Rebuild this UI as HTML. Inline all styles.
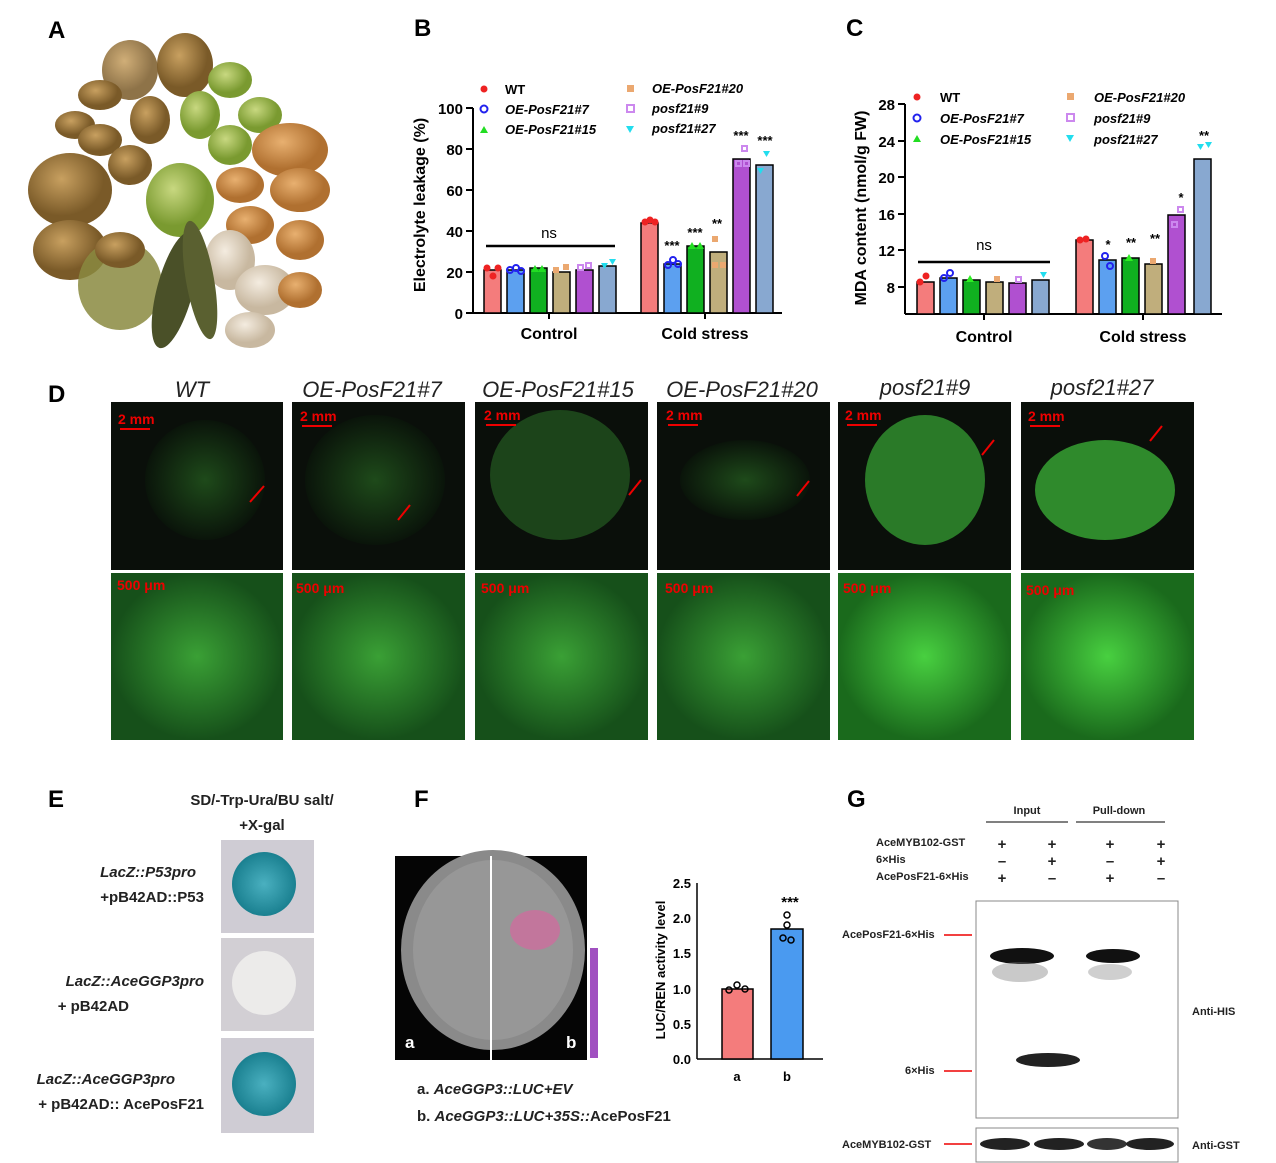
<!DOCTYPE html><html><head><meta charset="utf-8"><style>body{margin:0;background:#fff}svg{display:block}text{font-family:"Liberation Sans",sans-serif}</style></head><body>
<svg width="1276" height="1163" viewBox="0 0 1276 1163" xmlns="http://www.w3.org/2000/svg">
<defs>
<radialGradient id="gk" cx="40%" cy="35%"><stop offset="0" stop-color="#c8a060"/><stop offset="1" stop-color="#7a5a28"/></radialGradient>
<radialGradient id="gg" cx="40%" cy="35%"><stop offset="0" stop-color="#c8d880"/><stop offset="1" stop-color="#7a9a30"/></radialGradient>
<radialGradient id="go" cx="40%" cy="35%"><stop offset="0" stop-color="#e8b070"/><stop offset="1" stop-color="#b07030"/></radialGradient>
<radialGradient id="gw" cx="40%" cy="35%"><stop offset="0" stop-color="#f4ece0"/><stop offset="1" stop-color="#c8b8a0"/></radialGradient>
<radialGradient id="gr1" cx="50%" cy="50%"><stop offset="0" stop-color="#1e4a1a"/><stop offset="1" stop-color="#0a140a"/></radialGradient>
<radialGradient id="gr2" cx="50%" cy="50%"><stop offset="0" stop-color="#3aa035"/><stop offset="1" stop-color="#16501a"/></radialGradient>
<radialGradient id="gr3" cx="50%" cy="50%"><stop offset="0" stop-color="#48d040"/><stop offset="1" stop-color="#1a6a1c"/></radialGradient>
<radialGradient id="blue" cx="50%" cy="50%"><stop offset="0" stop-color="#4ab0c0"/><stop offset="1" stop-color="#1a8090"/></radialGradient>
</defs>
<g font-weight="bold" font-size="24"><text x="48" y="38">A</text><text x="414" y="36">B</text><text x="846" y="36">C</text><text x="48" y="402">D</text><text x="48" y="807">E</text><text x="414" y="807">F</text><text x="847" y="807">G</text></g>
<!-- A fruits -->
<g>
<ellipse cx="185" cy="65" rx="28" ry="32" fill="url(#gk)"/><ellipse cx="130" cy="70" rx="28" ry="30" fill="url(#gk)" opacity=".85"/><ellipse cx="230" cy="80" rx="22" ry="18" fill="url(#gg)"/>
<ellipse cx="100" cy="95" rx="22" ry="15" fill="url(#gk)"/><ellipse cx="75" cy="125" rx="20" ry="14" fill="url(#gk)"/><ellipse cx="150" cy="120" rx="20" ry="24" fill="url(#gk)"/>
<ellipse cx="200" cy="115" rx="20" ry="24" fill="url(#gg)"/><ellipse cx="260" cy="115" rx="22" ry="18" fill="url(#gg)"/><ellipse cx="290" cy="150" rx="38" ry="27" fill="url(#go)"/>
<ellipse cx="100" cy="140" rx="22" ry="16" fill="url(#gk)"/><ellipse cx="230" cy="145" rx="22" ry="20" fill="url(#gg)"/>
<ellipse cx="70" cy="190" rx="42" ry="37" fill="url(#gk)"/><ellipse cx="180" cy="200" rx="34" ry="37" fill="url(#gg)"/><ellipse cx="130" cy="165" rx="22" ry="20" fill="url(#gk)"/>
<ellipse cx="240" cy="185" rx="24" ry="18" fill="url(#go)"/><ellipse cx="300" cy="190" rx="30" ry="22" fill="url(#go)"/><ellipse cx="250" cy="225" rx="24" ry="19" fill="url(#go)"/>
<ellipse cx="300" cy="240" rx="24" ry="20" fill="url(#go)"/><ellipse cx="70" cy="250" rx="37" ry="30" fill="url(#gk)"/><ellipse cx="230" cy="260" rx="25" ry="30" fill="url(#gw)"/>
<ellipse cx="265" cy="290" rx="30" ry="25" fill="url(#gw)"/><ellipse cx="250" cy="330" rx="25" ry="18" fill="url(#gw)"/><ellipse cx="300" cy="290" rx="22" ry="18" fill="url(#go)"/>
<ellipse cx="120" cy="285" rx="42" ry="45" fill="#8a8a40" opacity=".85"/><ellipse cx="175" cy="290" rx="18" ry="60" fill="#4a5028" transform="rotate(15 175 290)"/>
<ellipse cx="200" cy="280" rx="14" ry="60" fill="#5a6030" transform="rotate(-10 200 280)"/><ellipse cx="120" cy="250" rx="25" ry="18" fill="url(#gk)"/>
</g>
<!-- B -->
<g font-size="15" font-weight="bold">
<line x1="473" y1="108" x2="473" y2="313" stroke="#000" stroke-width="2"/><line x1="473" y1="313" x2="782" y2="313" stroke="#000" stroke-width="2"/>
<g stroke="#000" stroke-width="2"><line x1="466" y1="108" x2="473" y2="108"/><line x1="466" y1="149" x2="473" y2="149"/><line x1="466" y1="190" x2="473" y2="190"/><line x1="466" y1="231" x2="473" y2="231"/><line x1="466" y1="272" x2="473" y2="272"/><line x1="466" y1="313" x2="473" y2="313"/><line x1="549" y1="313" x2="549" y2="319"/><line x1="705" y1="313" x2="705" y2="319"/></g>
<g text-anchor="end"><text x="463" y="114">100</text><text x="463" y="155">80</text><text x="463" y="196">60</text><text x="463" y="237">40</text><text x="463" y="278">20</text><text x="463" y="319">0</text></g>
<text x="549" y="339" text-anchor="middle" font-size="16">Control</text><text x="705" y="339" text-anchor="middle" font-size="16">Cold stress</text>
<text transform="translate(425 205) rotate(-90)" text-anchor="middle" font-size="16">Electrolyte leakage (%)</text>
<g stroke="#000" stroke-width="1.5">
<rect x="484" y="270" width="17" height="43" fill="#f47c7c"/><rect x="507" y="270" width="17" height="43" fill="#5ca0f0"/><rect x="530" y="268" width="17" height="45" fill="#10b020"/><rect x="553" y="272" width="17" height="41" fill="#c0ae7c"/><rect x="576" y="270" width="17" height="43" fill="#b050d0"/><rect x="599" y="266" width="17" height="47" fill="#88a8d0"/>
<rect x="641" y="223" width="17" height="90" fill="#f47c7c"/><rect x="664" y="264" width="17" height="49" fill="#5ca0f0"/><rect x="687" y="246" width="17" height="67" fill="#10b020"/><rect x="710" y="252" width="17" height="61" fill="#c0ae7c"/><rect x="733" y="159" width="17" height="154" fill="#b050d0"/><rect x="756" y="165" width="17" height="148" fill="#88a8d0"/>
</g>
<g fill="#e22"><circle cx="487" cy="268" r="3.5"/><circle cx="493" cy="276" r="3.5"/><circle cx="498" cy="268" r="3.5"/><circle cx="645" cy="222" r="3.5"/><circle cx="650" cy="220" r="3.5"/><circle cx="655" cy="222" r="3.5"/></g>
<g fill="none" stroke="#22e" stroke-width="2"><circle cx="510" cy="270" r="3"/><circle cx="516" cy="268" r="3"/><circle cx="521" cy="271" r="3"/><circle cx="668" cy="265" r="3"/><circle cx="673" cy="260" r="3"/><circle cx="678" cy="264" r="3"/></g>
<g fill="#2d2"><path d="M531 272l4-7 4 7z"/><path d="M538 272l4-7 4 7z"/><path d="M688 249l4-7 4 7z"/><path d="M696 249l4-7 4 7z"/></g>
<g fill="#eba870"><rect x="553" y="267" width="6" height="6"/><rect x="563" y="264" width="6" height="6"/><rect x="712" y="236" width="6" height="6"/><rect x="712" y="262" width="6" height="6"/><rect x="720" y="262" width="6" height="6"/></g>
<g fill="none" stroke="#c8e" stroke-width="2"><rect x="578" y="265" width="5" height="5"/><rect x="586" y="263" width="5" height="5"/><rect x="736" y="161" width="5" height="5"/><rect x="742" y="146" width="5" height="5"/><rect x="744" y="161" width="5" height="5"/></g>
<g fill="#2de"><path d="M601 263h7l-3.5 6z"/><path d="M609 259h7l-3.5 6z"/><path d="M757 168h7l-3.5 6z"/><path d="M763 151h7l-3.5 6z"/></g>
<line x1="486" y1="246" x2="615" y2="246" stroke="#000" stroke-width="2.5"/>
<text x="549" y="238" text-anchor="middle" font-weight="normal">ns</text>
<g font-size="13" text-anchor="middle"><text x="672" y="250">***</text><text x="695" y="237">***</text><text x="717" y="228">**</text><text x="741" y="140">***</text><text x="765" y="145">***</text></g>
<g font-size="13" font-style="italic"><text x="505" y="94" font-style="normal">WT</text><text x="505" y="114">OE-PosF21#7</text><text x="505" y="134">OE-PosF21#15</text><text x="652" y="93">OE-PosF21#20</text><text x="652" y="113">posf21#9</text><text x="652" y="133">posf21#27</text></g>
<circle cx="484" cy="89" r="3.5" fill="#e22"/><circle cx="484" cy="109" r="3.5" fill="none" stroke="#22e" stroke-width="2"/><path d="M480 133 L484 126 L488 133Z" fill="#2d2"/><rect x="627" y="85" width="7" height="7" fill="#eba870"/><rect x="627" y="105" width="7" height="7" fill="none" stroke="#c8e" stroke-width="2"/><path d="M626 126 L634 126 L630 133Z" fill="#2de"/>
</g>
<!-- C -->
<g font-size="15" font-weight="bold">
<line x1="905" y1="104" x2="905" y2="314" stroke="#000" stroke-width="2"/><line x1="905" y1="314" x2="1222" y2="314" stroke="#000" stroke-width="2"/>
<g stroke="#000" stroke-width="2"><line x1="898" y1="104" x2="905" y2="104"/><line x1="898" y1="141" x2="905" y2="141"/><line x1="898" y1="177" x2="905" y2="177"/><line x1="898" y1="214" x2="905" y2="214"/><line x1="898" y1="250" x2="905" y2="250"/><line x1="898" y1="287" x2="905" y2="287"/><line x1="984" y1="314" x2="984" y2="320"/><line x1="1143" y1="314" x2="1143" y2="320"/></g>
<g text-anchor="end"><text x="895" y="110">28</text><text x="895" y="147">24</text><text x="895" y="183">20</text><text x="895" y="220">16</text><text x="895" y="256">12</text><text x="895" y="293">8</text></g>
<text x="984" y="342" text-anchor="middle" font-size="16">Control</text><text x="1143" y="342" text-anchor="middle" font-size="16">Cold stress</text>
<text transform="translate(866 208) rotate(-90)" text-anchor="middle" font-size="16">MDA content (nmol/g FW)</text>
<g stroke="#000" stroke-width="1.5">
<rect x="917" y="282" width="17" height="32" fill="#f47c7c"/><rect x="940" y="278" width="17" height="36" fill="#5ca0f0"/><rect x="963" y="280" width="17" height="34" fill="#10b020"/><rect x="986" y="282" width="17" height="32" fill="#c0ae7c"/><rect x="1009" y="283" width="17" height="31" fill="#b050d0"/><rect x="1032" y="280" width="17" height="34" fill="#88a8d0"/>
<rect x="1076" y="240" width="17" height="74" fill="#f47c7c"/><rect x="1099" y="260" width="17" height="54" fill="#5ca0f0"/><rect x="1122" y="258" width="17" height="56" fill="#10b020"/><rect x="1145" y="264" width="17" height="50" fill="#c0ae7c"/><rect x="1168" y="215" width="17" height="99" fill="#b050d0"/><rect x="1194" y="159" width="17" height="155" fill="#88a8d0"/>
</g>
<g fill="#e22"><circle cx="920" cy="282" r="3.5"/><circle cx="926" cy="276" r="3.5"/><circle cx="1080" cy="240" r="3.5"/><circle cx="1086" cy="239" r="3.5"/></g>
<g fill="none" stroke="#22e" stroke-width="2"><circle cx="944" cy="278" r="3"/><circle cx="950" cy="273" r="3"/><circle cx="1105" cy="256" r="3"/><circle cx="1110" cy="266" r="3"/></g>
<g fill="#2dee22"><path d="M966 282l4-7 4 7z"/><path d="M1125 261l4-7 4 7z"/></g>
<g fill="#eba870"><rect x="994" y="276" width="6" height="6"/><rect x="1150" y="258" width="6" height="6"/></g>
<g fill="none" stroke="#c8e" stroke-width="2"><rect x="1016" y="277" width="5" height="5"/><rect x="1172" y="222" width="5" height="5"/><rect x="1178" y="207" width="5" height="5"/></g>
<g fill="#2de"><path d="M1040 272h7l-3.5 6z"/><path d="M1197 144h7l-3.5 6z"/><path d="M1205 142h7l-3.5 6z"/></g>
<line x1="918" y1="262" x2="1050" y2="262" stroke="#000" stroke-width="2.5"/><text x="984" y="250" text-anchor="middle" font-weight="normal">ns</text>
<g font-size="13" text-anchor="middle"><text x="1108" y="249">*</text><text x="1131" y="247">**</text><text x="1155" y="243">**</text><text x="1181" y="202">*</text><text x="1204" y="140">**</text></g>
<g font-size="13" font-style="italic"><text x="940" y="102" font-style="normal">WT</text><text x="940" y="123">OE-PosF21#7</text><text x="940" y="144">OE-PosF21#15</text><text x="1094" y="102">OE-PosF21#20</text><text x="1094" y="123">posf21#9</text><text x="1094" y="144">posf21#27</text></g>
<circle cx="917" cy="97" r="3.5" fill="#e22"/><circle cx="917" cy="118" r="3.5" fill="none" stroke="#22e" stroke-width="2"/><path d="M913 142 L917 135 L921 142Z" fill="#2d2"/><rect x="1067" y="93" width="7" height="7" fill="#eba870"/><rect x="1067" y="114" width="7" height="7" fill="none" stroke="#c8e" stroke-width="2"/><path d="M1066 135 L1074 135 L1070 142Z" fill="#2de"/>
</g>
<!-- D -->
<g font-size="22" font-style="italic" text-anchor="middle" fill="#222"><text x="192" y="397">WT</text><text x="372" y="397">OE-PosF21#7</text><text x="558" y="397">OE-PosF21#15</text><text x="742" y="397">OE-PosF21#20</text><text x="925" y="395">posf21#9</text><text x="1102" y="395">posf21#27</text></g>
<g>
<rect x="111" y="402" width="172" height="168" fill="#0a0f0a"/><rect x="292" y="402" width="173" height="168" fill="#0a0f0a"/><rect x="475" y="402" width="173" height="168" fill="#0a0f0a"/><rect x="657" y="402" width="173" height="168" fill="#0a0f0a"/><rect x="838" y="402" width="173" height="168" fill="#0a0f0a"/><rect x="1021" y="402" width="173" height="168" fill="#0a0f0a"/>
<ellipse cx="205" cy="480" rx="60" ry="60" fill="url(#gr1)"/><ellipse cx="375" cy="480" rx="70" ry="65" fill="url(#gr1)"/><ellipse cx="560" cy="475" rx="70" ry="65" fill="#1e4a1c" opacity=".9"/><ellipse cx="745" cy="480" rx="65" ry="40" fill="url(#gr1)"/><ellipse cx="925" cy="480" rx="60" ry="65" fill="#2a7a28"/><ellipse cx="1105" cy="490" rx="70" ry="50" fill="#2f8a2c"/>
<rect x="111" y="573" width="172" height="167" fill="url(#gr2)"/><rect x="292" y="573" width="173" height="167" fill="url(#gr2)"/><rect x="475" y="573" width="173" height="167" fill="url(#gr2)"/><rect x="657" y="573" width="173" height="167" fill="url(#gr2)"/><rect x="838" y="573" width="173" height="167" fill="url(#gr3)"/><rect x="1021" y="573" width="173" height="167" fill="url(#gr3)"/>
</g>
<g font-size="14" font-weight="bold" fill="#e00"><text x="118" y="424">2 mm</text><text x="300" y="421">2 mm</text><text x="484" y="420">2 mm</text><text x="666" y="420">2 mm</text><text x="845" y="420">2 mm</text><text x="1028" y="421">2 mm</text>
<text x="117" y="590">500 μm</text><text x="296" y="593">500 μm</text><text x="481" y="593">500 μm</text><text x="665" y="593">500 μm</text><text x="843" y="593">500 μm</text><text x="1026" y="595">500 μm</text></g>
<g stroke="#e00" stroke-width="2"><line x1="120" y1="429" x2="150" y2="429"/><line x1="302" y1="426" x2="332" y2="426"/><line x1="486" y1="425" x2="516" y2="425"/><line x1="668" y1="425" x2="698" y2="425"/><line x1="847" y1="425" x2="877" y2="425"/><line x1="1030" y1="426" x2="1060" y2="426"/>
<line x1="264" y1="486" x2="250" y2="502"/><line x1="410" y1="505" x2="398" y2="520"/><line x1="641" y1="480" x2="629" y2="495"/><line x1="809" y1="481" x2="797" y2="496"/><line x1="994" y1="440" x2="982" y2="455"/><line x1="1162" y1="426" x2="1150" y2="441"/></g>
<!-- E -->
<g font-size="15" font-weight="bold" fill="#222">
<text x="262" y="805" text-anchor="middle">SD/-Trp-Ura/BU salt/</text><text x="262" y="830" text-anchor="middle">+X-gal</text>
<g text-anchor="end"><text x="196" y="877" font-style="italic">LacZ::P53pro</text><text x="204" y="902">+pB42AD::P53</text><text x="204" y="986" font-style="italic">LacZ::AceGGP3pro</text><text x="129" y="1011">+ pB42AD</text><text x="175" y="1084" font-style="italic">LacZ::AceGGP3pro</text><text x="204" y="1109">+ pB42AD:: AcePosF21</text></g>
</g>
<rect x="221" y="840" width="93" height="93" fill="#cfccd4"/><rect x="221" y="938" width="93" height="93" fill="#d2cfd4"/><rect x="221" y="1038" width="93" height="95" fill="#cfccd4"/>
<circle cx="264" cy="884" r="32" fill="url(#blue)"/><circle cx="264" cy="983" r="32" fill="#ecebea"/><circle cx="264" cy="1084" r="32" fill="url(#blue)"/>
<!-- F -->
<rect x="395" y="856" width="192" height="204" fill="#050505"/><ellipse cx="493" cy="950" rx="92" ry="100" fill="#8a8a8a"/><ellipse cx="493" cy="950" rx="80" ry="90" fill="#a0a0a0" opacity=".6"/><line x1="491" y1="856" x2="491" y2="1060" stroke="#fff" stroke-width="2"/><rect x="590" y="948" width="8" height="110" fill="#a050c0"/>
<ellipse cx="535" cy="930" rx="25" ry="20" fill="#e060a0" opacity=".6"/>
<text x="405" y="1048" fill="#fff" font-size="17" font-weight="bold">a</text><text x="566" y="1048" fill="#fff" font-size="17" font-weight="bold">b</text>
<g font-size="15" font-weight="bold" fill="#222"><text x="417" y="1094">a. <tspan font-style="italic">AceGGP3::LUC+EV</tspan></text><text x="417" y="1121">b. <tspan font-style="italic">AceGGP3::LUC+35S::</tspan>AcePosF21</text></g>
<g font-size="13" font-weight="bold">
<line x1="697" y1="883" x2="697" y2="1059" stroke="#000" stroke-width="1.5"/><line x1="697" y1="1059" x2="823" y2="1059" stroke="#000" stroke-width="1.5"/>
<g text-anchor="end"><text x="691" y="888">2.5</text><text x="691" y="923">2.0</text><text x="691" y="958">1.5</text><text x="691" y="994">1.0</text><text x="691" y="1029">0.5</text><text x="691" y="1064">0.0</text></g>
<text transform="translate(665 970) rotate(-90)" text-anchor="middle">LUC/REN activity level</text>
<rect x="722" y="989" width="31" height="70" fill="#f47c7c" stroke="#000" stroke-width="1.5"/><rect x="771" y="929" width="32" height="130" fill="#4a9af0" stroke="#000" stroke-width="1.5"/>
<g fill="none" stroke="#000" stroke-width="1.5"><circle cx="729" cy="990" r="3"/><circle cx="737" cy="985" r="3"/><circle cx="745" cy="989" r="3"/><circle cx="787" cy="915" r="3"/><circle cx="787" cy="925" r="3"/><circle cx="783" cy="938" r="3"/><circle cx="791" cy="940" r="3"/></g>
<text x="737" y="1081" text-anchor="middle">a</text><text x="787" y="1081" text-anchor="middle">b</text><text x="790" y="907" text-anchor="middle" font-size="15">***</text>
</g>
<!-- G -->
<g font-size="11" font-weight="bold" fill="#222">
<text x="1027" y="814" text-anchor="middle">Input</text><text x="1119" y="814" text-anchor="middle">Pull-down</text>
<line x1="986" y1="822" x2="1068" y2="822" stroke="#000"/><line x1="1076" y1="822" x2="1165" y2="822" stroke="#000"/>
<text x="876" y="846">AceMYB102-GST</text><text x="876" y="863">6×His</text><text x="876" y="880">AcePosF21-6×His</text>
<g font-size="15" text-anchor="middle"><text x="1002" y="849">+</text><text x="1052" y="849">+</text><text x="1110" y="849">+</text><text x="1161" y="849">+</text><text x="1002" y="866">–</text><text x="1052" y="866">+</text><text x="1110" y="866">–</text><text x="1161" y="866">+</text><text x="1002" y="883">+</text><text x="1052" y="883">–</text><text x="1110" y="883">+</text><text x="1161" y="883">–</text></g>
<text x="842" y="938">AcePosF21-6×His</text><text x="905" y="1074">6×His</text><text x="842" y="1148">AceMYB102-GST</text><text x="1192" y="1015">Anti-HIS</text><text x="1192" y="1149">Anti-GST</text>
</g>
<g stroke="#e00" stroke-width="1.5"><line x1="944" y1="935" x2="972" y2="935"/><line x1="944" y1="1071" x2="972" y2="1071"/><line x1="944" y1="1144" x2="972" y2="1144"/></g>
<rect x="976" y="901" width="202" height="217" fill="#fff" stroke="#888"/>
<ellipse cx="1022" cy="956" rx="32" ry="8" fill="#111"/><ellipse cx="1020" cy="972" rx="28" ry="10" fill="#777" opacity=".4"/><ellipse cx="1113" cy="956" rx="27" ry="7" fill="#111"/><ellipse cx="1110" cy="972" rx="22" ry="8" fill="#888" opacity=".4"/><ellipse cx="1048" cy="1060" rx="32" ry="7" fill="#222"/>
<rect x="976" y="1128" width="202" height="34" fill="#fff" stroke="#888"/>
<ellipse cx="1005" cy="1144" rx="25" ry="6" fill="#222"/><ellipse cx="1059" cy="1144" rx="25" ry="6" fill="#222"/><ellipse cx="1107" cy="1144" rx="20" ry="6" fill="#333"/><ellipse cx="1150" cy="1144" rx="24" ry="6" fill="#222"/>
</svg>
</body></html>
